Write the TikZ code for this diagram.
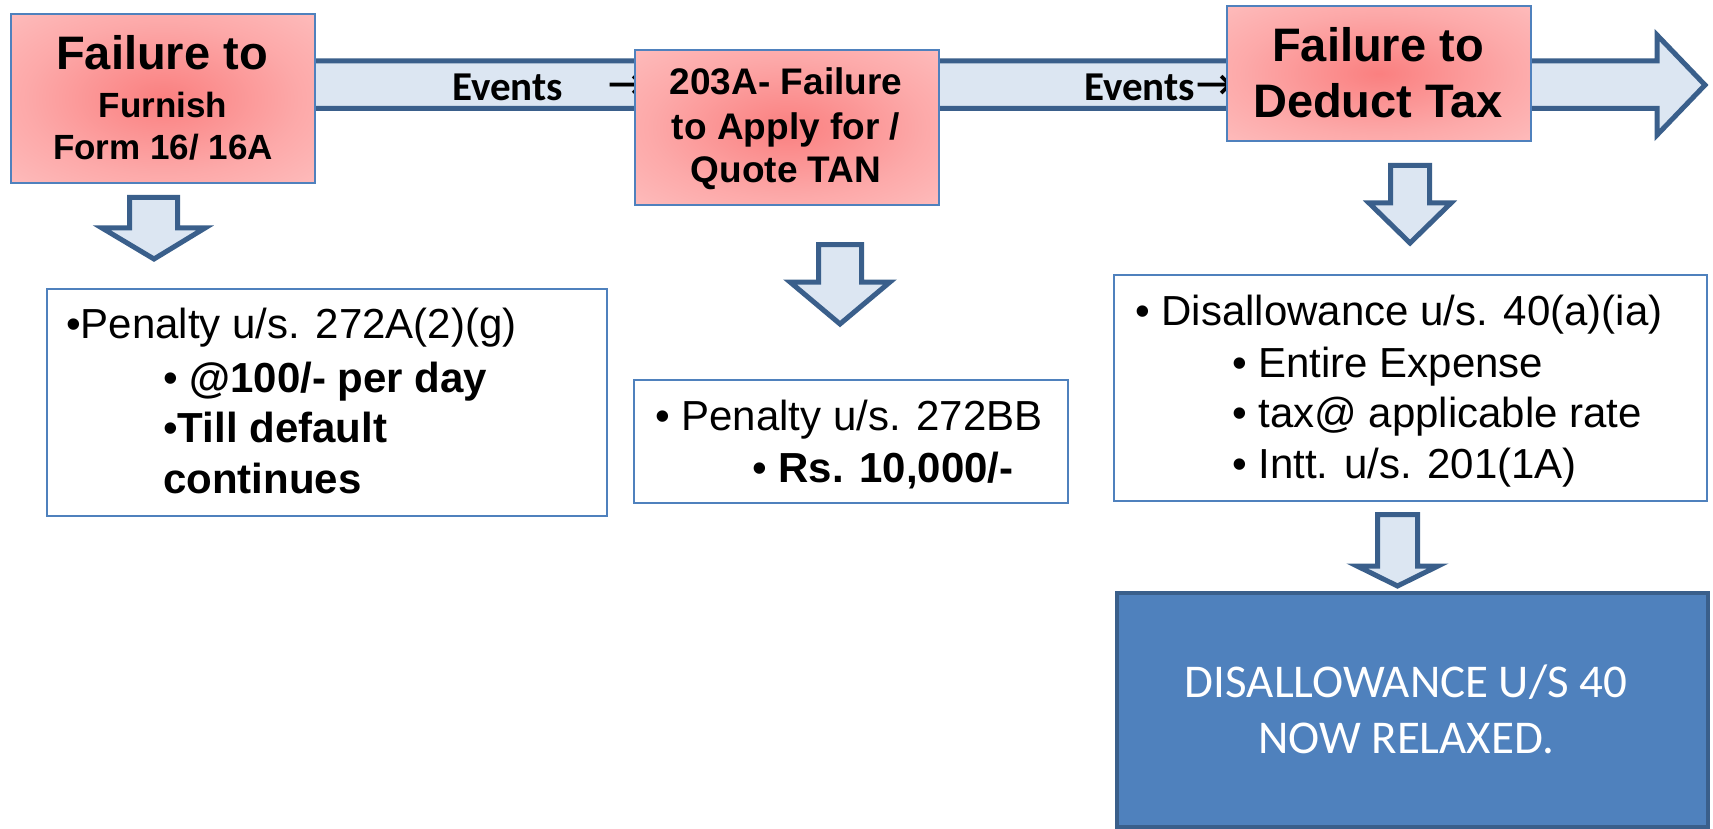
\documentclass[tikz,border=0pt]{standalone}
\usepackage{fontspec}
\setmainfont{Liberation Sans}
\newfontfamily\evfont{Carlito}
\newfontfamily\capfont{Carlito}
\newfontfamily\symfont{DejaVu Sans}
\definecolor{arrowline}{HTML}{3A5F8B}
\definecolor{arrowfill}{HTML}{DCE6F2}
\definecolor{boxline}{HTML}{4F81BD}
\definecolor{bluefill}{HTML}{4F81BD}
\pgfdeclareradialshading{pinkglow}{\pgfpoint{0bp}{0bp}}{rgb(0bp)=(0.98,0.50,0.50); rgb(22bp)=(0.99,0.66,0.66); rgb(48bp)=(1,0.80,0.80); rgb(72bp)=(1,0.87,0.87)}
\tikzset{
  blockarrow/.style={draw=arrowline, fill=arrowfill, line width=5pt, line join=miter},
  eventbox/.style={draw=boxline, line width=2pt, shade, shading=pinkglow, anchor=north west, inner sep=0pt},
  infobox/.style={draw=boxline, line width=2pt, fill=white, anchor=north west, inner sep=0pt},
  resultbox/.style={draw=arrowline, line width=4pt, fill=bluefill, anchor=north west, inner sep=0pt},
  txt/.style={inner sep=0pt, anchor=base west},
  ctxt/.style={inner sep=0pt, anchor=base},
}
\begin{document}
\begin{tikzpicture}[x=1pt,y=-1pt]
\useasboundingbox (0,0) rectangle (1713,829);
% main horizontal block arrow
\draw[blockarrow] (300,61) -- (1657,61) -- (1657,35) -- (1705,85) -- (1657,135) -- (1657,108.5) -- (300,108.5) -- cycle;
% Events labels on the shaft
\node[txt, font=\evfont\bfseries\fontsize{41}{46}\selectfont] (ev1) at (452,101) {Events};
\node[txt, font=\symfont\fontsize{46}{50}\selectfont] (ev1a) at (607,100) {→};
\node[txt, font=\evfont\bfseries\fontsize{41}{46}\selectfont] (ev2) at (1084,101) {Events};
\node[txt, font=\symfont\fontsize{46}{50}\selectfont] (ev2a) at (1195,100) {→};
% event boxes
\node[eventbox, minimum width=304pt, minimum height=169pt] (b1) at (10,13) {};
\node[eventbox, minimum width=304pt, minimum height=155pt] (b2) at (634,49) {};
\node[eventbox, minimum width=304pt, minimum height=135pt] (b3) at (1226,5) {};
\node[ctxt, font=\bfseries\fontsize{47}{54}\selectfont] (t1a) at (162,70) {Failure to};
\node[ctxt, font=\bfseries\fontsize{35}{40}\selectfont] (t1b) at (163,118) {Furnish};
\node[ctxt, font=\bfseries\fontsize{35}{40}\selectfont] (t1c) at (163,160) {Form 16/ 16A};
\node[ctxt, font=\bfseries\fontsize{37}{42}\selectfont] (t2a) at (786,95) {203A- Failure};
\node[ctxt, font=\bfseries\fontsize{37}{42}\selectfont] (t2b) at (786,140) {to Apply for /};
\node[ctxt, font=\bfseries\fontsize{37}{42}\selectfont] (t2c) at (786,183) {Quote TAN};
\node[ctxt, font=\bfseries\fontsize{47}{54}\selectfont] (t3a) at (1378,62) {Failure to};
\node[ctxt, font=\bfseries\fontsize{47}{54}\selectfont] (t3b) at (1378,118) {Deduct Tax};
% down block arrows
\draw[blockarrow] (129.5,197.5) -- (177.5,197.5) -- (177.5,228) -- (205,228) -- (154,259) -- (102,228) -- (129.5,228) -- cycle;
\draw[blockarrow] (818.5,244.5) -- (861.5,244.5) -- (861.5,282) -- (890,282) -- (840,324) -- (790,282) -- (818.5,282) -- cycle;
\draw[blockarrow] (1390.5,165.5) -- (1429.5,165.5) -- (1429.5,203) -- (1451,203) -- (1410,243) -- (1369,203) -- (1390.5,203) -- cycle;
\draw[blockarrow] (1377.5,514.5) -- (1417.5,514.5) -- (1417.5,566) -- (1438,566) -- (1397.5,586) -- (1357,566) -- (1377.5,566) -- cycle;
% info boxes
\node[infobox, minimum width=560pt, minimum height=227pt] (b4) at (46,288) {};
\node[infobox, minimum width=434pt, minimum height=123pt] (b5) at (633,379) {};
\node[infobox, minimum width=593pt, minimum height=226pt] (b6) at (1113,274) {};
\begin{scope}[every node/.style={font=\fontsize{42}{48}\selectfont}]
\node[txt] (p1) at (66,338) {•Penalty u/s. 272A(2)(g)};
\node[txt] (p2) at (163,392) {• \textbf{@100/- per day}};
\node[txt] (p3) at (163,442) {•\textbf{Till default}};
\node[txt] (p4) at (163,493) {\textbf{continues}};
\node[txt] (q1) at (655,430) {• Penalty u/s. 272BB};
\node[txt] (q2) at (752,482) {• \textbf{Rs. 10,000/-}};
\node[txt] (r1) at (1135,325) {• Disallowance u/s. 40(a)(ia)};
\node[txt] (r2) at (1232,377) {• Entire Expense};
\node[txt] (r3) at (1232,427) {• tax@ applicable rate};
\node[txt] (r4) at (1232,478) {• Intt. u/s. 201(1A)};
\end{scope}
% result box
\node[resultbox, minimum width=591pt, minimum height=234pt] (b7) at (1115,591) {};
\node[ctxt, text=white, font=\capfont\fontsize{47}{54}\selectfont] (s1) at (1406,697) {DISALLOWANCE U/S 40};
\node[ctxt, text=white, font=\capfont\fontsize{47}{54}\selectfont] (s2) at (1406,753) {NOW RELAXED.};
\end{tikzpicture}
\end{document}
